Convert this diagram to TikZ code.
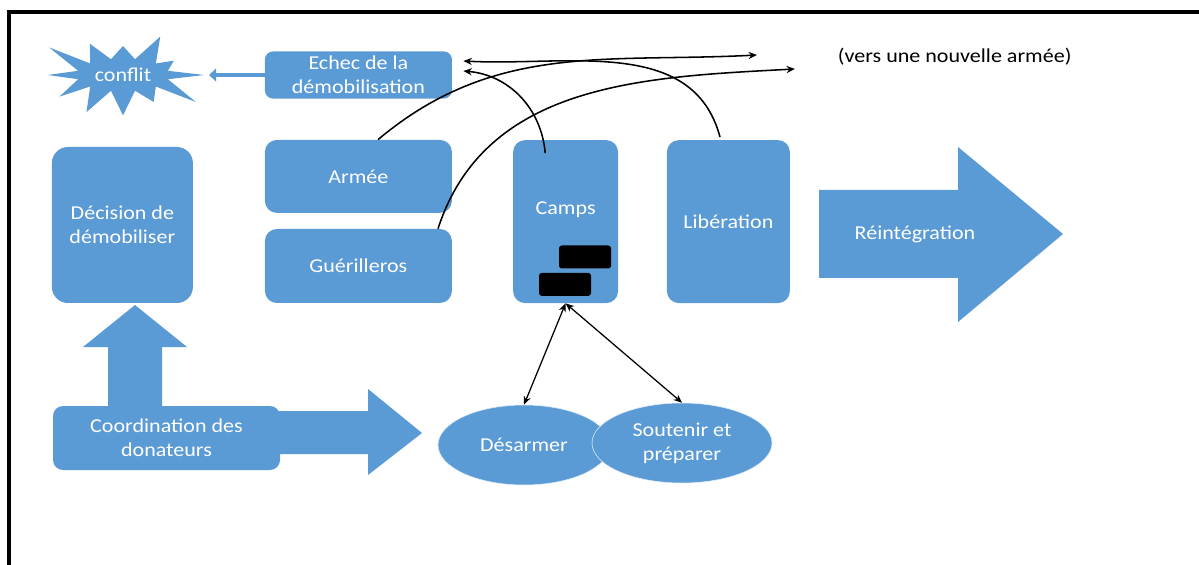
\documentclass[tikz,border=0pt]{standalone}
\usepackage{fontspec}
\setmainfont{Carlito}[FakeStretch=1.12]
\usetikzlibrary{shapes.symbols,shapes.geometric,arrows.meta}
\definecolor{officeblue}{RGB}{91,155,213}

\begin{document}
\begin{tikzpicture}[
    txt/.style={font={\fontsize{14}{17}\selectfont}},
    box/.style={txt, fill=officeblue, rounded corners=0.3cm, text=white, align=center},
    blob/.style={txt, ellipse, fill=officeblue, draw=white!80!officeblue, line width=0.4pt, text=white, align=center},
    link/.style={black, line width=1.1pt, -{Stealth[length=6pt,width=5pt]}},
    twoway/.style={black, line width=0.9pt, {Stealth[length=6pt,width=5pt]}-{Stealth[length=6pt,width=5pt]}}]
  \useasboundingbox (0,0) rectangle (29.975,-14.125);
  % frame (cut at right and bottom)
  \draw[line width=2.8pt] (0.225,-14.3) |- (30.2,-0.3);

  % top row
  \node[starburst, starburst points=12, starburst point height=1.0cm, random starburst=3,
        fill=officeblue, text=white, txt, minimum width=3.65cm, minimum height=2.35cm] (conflit) at (3.075,-1.875) {conflit};
  \node[box, rounded corners=0.2cm, minimum width=4.675cm, minimum height=1.15cm] (echec) at (8.96,-1.875) {Echec de la\\démobilisation};
  \draw[officeblue, line width=3.5pt, shorten >=2.15cm, -{Triangle[length=5pt,width=9pt]}] (echec.west) -- (conflit.center);
  \node[txt, anchor=west] (vers) at (20.825,-1.425) {(vers une nouvelle armée)};

  % middle row
  \node[box, rounded corners=0.4cm, minimum width=3.525cm, minimum height=3.9cm] (decision) at (3.06,-5.625) {Décision de\\démobiliser};
  \node[box, minimum width=4.675cm, minimum height=1.825cm] (armee) at (8.96,-4.41) {Armée};
  \node[box, minimum width=4.675cm, minimum height=1.85cm] (guer) at (8.96,-6.65) {Guérilleros};
  \node[box, minimum width=2.625cm, minimum height=4.075cm,
        label={[txt, text=white, yshift=0.29cm]center:Camps}] (camps) at (14.14,-5.54) {};
  \node[box, minimum width=3.075cm, minimum height=4.075cm] (liberation) at (18.21,-5.54) {Libération};
  % masked blocks
  \foreach \p [count=\n] in {{14.625,-6.425},{14.125,-7.11}} {
    \node[fill=black, rounded corners=2pt, minimum width=1.3cm, minimum height=0.575cm] (mask\n) at (\p) {};
  }
  \fill[officeblue] (20.475,-4.75) -- (23.95,-4.75) -- (23.95,-3.675) -- (26.575,-5.85)
    -- (23.95,-8.05) -- (23.95,-6.95) -- (20.475,-6.95) -- cycle;
  \node[txt, text=white] (reint) at (22.875,-5.85) {Réintégration};

  % bottom row
  \fill[officeblue] (2.7,-10.3) -- (2.7,-8.675) -- (2.075,-8.675) -- (3.375,-7.625)
    -- (4.675,-8.675) -- (4.05,-8.675) -- (4.05,-10.3) -- cycle;
  \fill[officeblue] (6.9,-10.275) -- (9.2,-10.275) -- (9.2,-9.725) -- (10.55,-10.825)
    -- (9.2,-11.875) -- (9.2,-11.35) -- (6.9,-11.35) -- cycle;
  \node[box, rounded corners=0.25cm, minimum width=5.675cm, minimum height=1.6cm] (coord) at (4.1625,-10.95) {Coordination des\\donateurs};
  \node[blob, minimum width=4.3cm, minimum height=2cm] (desarmer) at (13.1,-11.125) {Désarmer};
  \node[blob, minimum width=4.5cm, minimum height=2cm] (soutenir) at (17.05,-11.075) {Soutenir et\\préparer};
  \draw[twoway] (camps.south) -- (desarmer.north);
  \draw[twoway] (camps.south) -- (soutenir.north);

  % curved links
  \coordinate (newA) at (18.925,-1.375);
  \coordinate (newB) at (19.875,-1.725);
  \draw[link] ([xshift=0.49cm]armee.north) to[out=40,in=183] (newA);
  \draw[link] ([xshift=1.99cm]guer.north) to[out=72,in=183] (newB);
  \draw[link] ([xshift=-0.51cm,yshift=-0.33cm]camps.north) to[out=95,in=-5] ([xshift=0.28cm,yshift=0.1cm]echec.east);
  \draw[link] ([xshift=-0.21cm,yshift=0.07cm]liberation.north) to[out=105,in=-3] ([xshift=0.28cm,yshift=0.35cm]echec.east);
\end{tikzpicture}
\end{document}
